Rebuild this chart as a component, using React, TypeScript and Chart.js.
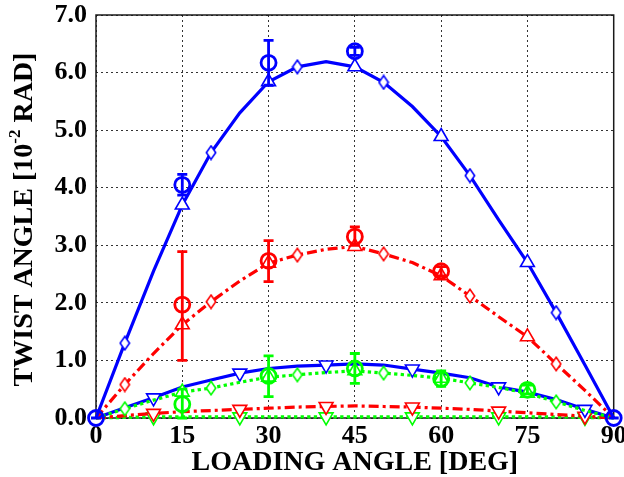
import React, { useEffect, useRef } from 'react';
import { Chart, registerables } from 'chart.js';

Chart.register(...registerables);

// Loading angles (deg) for the model curves
const ANGLES = [0, 5, 10, 15, 20, 25, 30, 35, 40, 45, 50, 55, 60, 65, 70, 75, 80, 85, 90];

// Model curves (twist angle, 10^-2 rad)
const BLUE_HIGH = [0, 1.3, 2.55, 3.7, 4.61, 5.3, 5.84, 6.1, 6.19, 6.1, 5.83, 5.41, 4.89, 4.21, 3.44, 2.7, 1.83, 0.92, 0];
const RED_HIGH = [0, 0.58, 1.12, 1.62, 2.02, 2.38, 2.69, 2.83, 2.93, 2.98, 2.85, 2.7, 2.47, 2.12, 1.76, 1.41, 0.94, 0.48, 0];
const GREEN_HIGH = [0, 0.16, 0.31, 0.45, 0.52, 0.62, 0.71, 0.75, 0.79, 0.82, 0.78, 0.74, 0.69, 0.61, 0.53, 0.43, 0.28, 0.13, 0];
const BLUE_LOW = [0, 0.18, 0.35, 0.54, 0.66, 0.78, 0.86, 0.9, 0.92, 0.94, 0.92, 0.85, 0.78, 0.7, 0.54, 0.45, 0.32, 0.15, 0];
const RED_LOW = [0, 0.04, 0.08, 0.11, 0.13, 0.15, 0.17, 0.19, 0.2, 0.21, 0.2, 0.19, 0.17, 0.15, 0.12, 0.09, 0.06, 0.03, 0];
const GREEN_LOW = [0, 0.01, 0.02, 0.02, 0.02, 0.02, 0.02, 0.02, 0.02, 0.02, 0.02, 0.02, 0.02, 0.02, 0.02, 0.02, 0.02, 0.01, 0];

// Experimental points with error bars
const BLUE_EXP_ANGLES = [0, 15, 30, 45, 90];
const BLUE_EXP = [0, 4.05, 6.17, 6.37, 0];
const BLUE_EXP_LOW = [0, 3.87, 5.78, 6.3, 0];
const BLUE_EXP_HIGH = [0, 4.23, 6.56, 6.44, 0];

const RED_EXP_ANGLES = [15, 30, 45, 60];
const RED_EXP = [1.97, 2.73, 3.15, 2.55];
const RED_EXP_LOW = [1.0, 2.37, 3.0, 2.47];
const RED_EXP_HIGH = [2.89, 3.08, 3.32, 2.63];

const GREEN_EXP_ANGLES = [15, 30, 45, 60, 75];
const GREEN_EXP = [0.24, 0.73, 0.86, 0.68, 0.49];
const GREEN_EXP_LOW = [0.0, 0.37, 0.6, 0.55, 0.42];
const GREEN_EXP_HIGH = [0.5, 1.08, 1.12, 0.82, 0.57];

// Axis ticks
const X_TICKS = [0, 15, 30, 45, 60, 75, 90];
const Y_TICKS = [0, 1, 2, 3, 4, 5, 6, 7];

const BLUE = '#0000ff';
const RED = '#ff0000';
const GREEN = '#00ff00';
const SERIF = '"Liberation Serif", "Times New Roman", serif';

function makeDiamond(color: string): HTMLCanvasElement {
  const c = document.createElement('canvas');
  c.width = 12;
  c.height = 16;
  const g = c.getContext('2d')!;
  g.beginPath();
  g.moveTo(6, 1.3);
  g.lineTo(10.7, 8);
  g.lineTo(6, 14.7);
  g.lineTo(1.3, 8);
  g.closePath();
  g.fillStyle = '#ffffff';
  g.fill();
  g.lineWidth = 1.6;
  g.strokeStyle = color;
  g.stroke();
  return c;
}

export default function App() {
  const ref = useRef<HTMLCanvasElement>(null);

  useEffect(() => {
    document.body.style.margin = '0';
    const canvas = ref.current;
    if (!canvas) return;

    const diamonds: Record<string, HTMLCanvasElement> = {
      [BLUE]: makeDiamond(BLUE),
      [RED]: makeDiamond(RED),
      [GREEN]: makeDiamond(GREEN),
    };

    const highLine = (values: number[], color: string, dash: number[]) => ({
      type: 'line',
      data: ANGLES.map((a, i) => ({ x: a, y: values[i] })),
      borderColor: color,
      borderWidth: 3.2,
      borderDash: dash,
      borderCapStyle: 'butt',
      tension: 0,
      fill: false,
      clip: false,
      pointBackgroundColor: '#ffffff',
      pointBorderColor: color,
      pointBorderWidth: 1.6,
      pointStyle: (ctx: any) => {
        const i = ctx.dataIndex;
        if (i % 3 === 1) return diamonds[color];
        return 'triangle';
      },
      pointRadius: (ctx: any) => {
        const i = ctx.dataIndex;
        if (i % 3 === 1) return 6;
        if (i % 3 === 0 && i > 0 && i < ANGLES.length - 1) return 8;
        return 0;
      },
    });

    const lowLine = (values: number[], color: string, dash: number[]) => ({
      type: 'line',
      data: ANGLES.map((a, i) => ({ x: a, y: values[i] })),
      borderColor: color,
      borderWidth: 3.2,
      borderDash: dash,
      borderCapStyle: 'butt',
      tension: 0,
      fill: false,
      clip: false,
      pointBackgroundColor: '#ffffff',
      pointBorderColor: color,
      pointBorderWidth: 1.6,
      pointStyle: 'triangle',
      pointRotation: 180,
      pointRadius: (ctx: any) => (ctx.dataIndex % 3 === 2 ? 8 : 0),
    });

    const expSet = (angles: number[], values: number[], low: number[], high: number[], color: string) => ({
      type: 'line',
      data: angles.map((a, i) => ({ x: a, y: values[i] })),
      errLow: low,
      errHigh: high,
      showLine: false,
      clip: false,
      borderColor: color,
      pointStyle: 'circle',
      pointRadius: 7.5,
      pointBorderWidth: 2.8,
      pointBorderColor: color,
      pointBackgroundColor: 'rgba(0,0,0,0)',
    });

    const dashDot = [10, 4, 3, 4];
    const dotted = [3.3, 3.3];

    const boxPlugin = {
      id: 'box',
      beforeDatasetsDraw(chart: any) {
        const { ctx, chartArea: a } = chart;
        ctx.save();
        ctx.strokeStyle = '#1a1a1a';
        ctx.lineWidth = 1.5;
        ctx.setLineDash([]);
        ctx.strokeRect(a.left, a.top, a.right - a.left, a.bottom - a.top);
        ctx.restore();
      },
    };

    const errorBarPlugin = {
      id: 'errorBars',
      afterDatasetsDraw(chart: any) {
        const { ctx } = chart;
        const xs = chart.scales.x;
        const ys = chart.scales.y;
        ctx.save();
        ctx.setLineDash([]);
        ctx.lineWidth = 2.8;
        chart.data.datasets.forEach((ds: any) => {
          if (!ds.errLow) return;
          ctx.strokeStyle = ds.borderColor;
          ds.data.forEach((p: any, j: number) => {
            const x = xs.getPixelForValue(p.x);
            const y1 = ys.getPixelForValue(ds.errLow[j]);
            const y2 = ys.getPixelForValue(ds.errHigh[j]);
            const cap = 5;
            ctx.beginPath();
            ctx.moveTo(x, y1);
            ctx.lineTo(x, y2);
            ctx.moveTo(x - cap, y1);
            ctx.lineTo(x + cap, y1);
            ctx.moveTo(x - cap, y2);
            ctx.lineTo(x + cap, y2);
            ctx.stroke();
          });
        });
        ctx.restore();
      },
    };

    const yTitlePlugin = {
      id: 'yTitle',
      afterDraw(chart: any) {
        const { ctx, chartArea: a } = chart;
        const big = `bold 28px ${SERIF}`;
        const small = `bold 17px ${SERIF}`;
        const p1 = 'TWIST ANGLE [10';
        const sup = '-2';
        const p2 = ' RAD]';
        ctx.save();
        ctx.font = big;
        const w1 = ctx.measureText(p1).width;
        const w3 = ctx.measureText(p2).width;
        ctx.font = small;
        const w2 = ctx.measureText(sup).width;
        const total = w1 + w2 + w3;
        ctx.translate(25, (a.top + a.bottom) / 2 + 3);
        ctx.rotate(-Math.PI / 2);
        ctx.fillStyle = '#000';
        ctx.textBaseline = 'middle';
        ctx.textAlign = 'left';
        let x = -total / 2;
        ctx.font = big;
        ctx.fillText(p1, x, 0);
        x += w1;
        ctx.font = small;
        ctx.fillText(sup, x, -9);
        x += w2;
        ctx.font = big;
        ctx.fillText(p2, x, 0);
        ctx.restore();
      },
    };

    const chart = new Chart(canvas, {
      type: 'line',
      data: {
        datasets: [
          expSet(BLUE_EXP_ANGLES, BLUE_EXP, BLUE_EXP_LOW, BLUE_EXP_HIGH, BLUE),
          expSet(RED_EXP_ANGLES, RED_EXP, RED_EXP_LOW, RED_EXP_HIGH, RED),
          expSet(GREEN_EXP_ANGLES, GREEN_EXP, GREEN_EXP_LOW, GREEN_EXP_HIGH, GREEN),
          highLine(BLUE_HIGH, BLUE, []),
          highLine(RED_HIGH, RED, dashDot),
          highLine(GREEN_HIGH, GREEN, dotted),
          lowLine(BLUE_LOW, BLUE, []),
          lowLine(RED_LOW, RED, dashDot),
          lowLine(GREEN_LOW, GREEN, dotted),
        ] as any,
      },
      options: {
        animation: false,
        responsive: false,
        events: [],
        layout: { padding: { left: 0, right: 7, top: 15, bottom: 0 } },
        plugins: {
          legend: { display: false },
          tooltip: { enabled: false },
          title: { display: false },
        },
        scales: {
          x: {
            type: 'linear',
            min: 0,
            max: 90,
            afterBuildTicks: (s: any) => {
              s.ticks = X_TICKS.map((v) => ({ value: v }));
            },
            afterFit: (s: any) => {
              s.height = 59;
              s.paddingLeft = 0;
              s.paddingRight = 0;
            },
            ticks: {
              color: '#000',
              font: { family: SERIF, size: 26, weight: 'bold' },
              padding: 3,
              maxRotation: 0,
              autoSkip: false,
              callback: (v: any) => String(v),
            },
            grid: { color: 'rgba(0,0,0,0.8)', lineWidth: 1, drawTicks: false },
            border: { display: false, dash: [2, 3] },
            title: {
              display: true,
              text: 'LOADING ANGLE [DEG]',
              color: '#000',
              font: { family: SERIF, size: 28, weight: 'bold', lineHeight: 1 },
              padding: { top: 0, bottom: 0 },
            },
          },
          y: {
            type: 'linear',
            min: 0,
            max: 7,
            afterBuildTicks: (s: any) => {
              s.ticks = Y_TICKS.map((v) => ({ value: v }));
            },
            afterFit: (s: any) => {
              s.width = 96;
              s.paddingTop = 0;
              s.paddingBottom = 0;
            },
            ticks: {
              color: '#000',
              font: { family: SERIF, size: 26, weight: 'bold' },
              padding: 9,
              autoSkip: false,
              callback: (v: any) => Number(v).toFixed(1),
            },
            grid: { color: 'rgba(0,0,0,0.8)', lineWidth: 1, drawTicks: false },
            border: { display: false, dash: [2, 3] },
            title: { display: false },
          },
        },
      } as any,
      plugins: [boxPlugin, errorBarPlugin, yTitlePlugin],
    });

    return () => chart.destroy();
  }, []);

  return <canvas ref={ref} width={624} height={477} style={{ display: 'block' }} />;
}
